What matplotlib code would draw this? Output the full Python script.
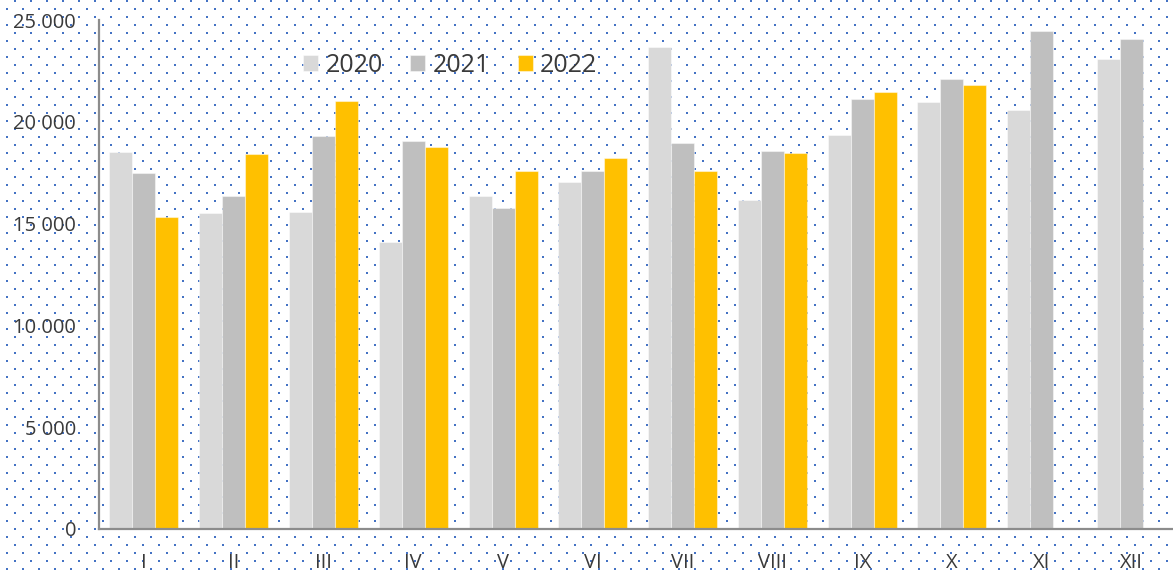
import numpy as np
import matplotlib
matplotlib.use('Agg')
import matplotlib.pyplot as plt
from matplotlib.ticker import FuncFormatter

plt.rcParams['font.family'] = ['Open Sans', 'DejaVu Sans']

months = ['I', 'II', 'III', 'IV', 'V', 'VI', 'VII', 'VIII', 'IX', 'X', 'XI', 'XII']
years = ['2020', '2021', '2022']
values_2020 = [18530, 15500, 15580, 14110, 16360, 17040, 23650, 16170, 19370, 20990, 20560, 23060]
values_2021 = [17470, 16340, 19300, 19040, 15770, 17600, 18960, 18580, 21140, 22110, 24470, 24050]
values_2022 = [15320, 18430, 21010, 18780, 17600, 18240, 17570, 18480, 21480, 21790, np.nan, np.nan]
colors = ['#D9D9D9', '#BFBFBF', '#FFC000']

W, H = 1173, 571
fig = plt.figure(figsize=(W / 100, H / 100), dpi=100)

# dotted background (Excel "5%" pattern fill)
bg = np.ones((H, W, 3))
dot = np.array([0x44, 0x72, 0xC4]) / 255
for y in range(0, H, 8):
  x0 = 14 if y % 16 == 0 else 6
  for x in range(x0, W, 16):
    bg[y:y + 2, x:x + 2] = dot
fig.figimage(bg, xo=0, yo=0, origin='upper', zorder=-1)

ax = fig.add_axes([99 / W, (H - 529) / H, (1176.4 - 99) / W, (529 - 20) / H])
ax.set_zorder(1)
ax.patch.set_alpha(0)

x = np.arange(len(months))
w = 0.256
for j, (vals, lab, c) in enumerate(zip([values_2020, values_2021, values_2022], years, colors)):
  ax.bar(x + (j - 1) * w, vals, w, color=c, edgecolor=(1, 1, 1, 0.45), linewidth=0.8, label=lab, zorder=2)

ax.set_xlim(-0.5, len(months) - 0.5)
ax.set_ylim(0, 25000)
ax.set_yticks(range(0, 25001, 5000))
ax.yaxis.set_major_formatter(FuncFormatter(lambda v, p: f'{int(v):,}'.replace(',', ' ')))
ax.set_xticks(x)
ax.set_xticklabels(months)
ax.tick_params(axis='y', length=0, pad=16.5, labelsize=14.5, labelcolor='#3A3A3A')
ax.tick_params(axis='x', length=0, pad=17, labelsize=14.5, labelcolor='#3A3A3A')

for s in ['top', 'right']:
  ax.spines[s].set_visible(False)
for s in ['left', 'bottom']:
  ax.spines[s].set_color('#8C8C8C')
  ax.spines[s].set_linewidth(1.6)
  ax.spines[s].set_zorder(3)

leg = fig.legend(loc='center left', bbox_to_anchor=(303 / W, 1 - 65 / H), ncol=3, frameon=False,
                 fontsize=18, labelcolor='#3A3A3A', handlelength=0.6, handleheight=0.6,
                 handletextpad=0.3, columnspacing=1.1, borderpad=0, borderaxespad=0)
leg.set_zorder(2)

fig.savefig('out.png', dpi=100)
